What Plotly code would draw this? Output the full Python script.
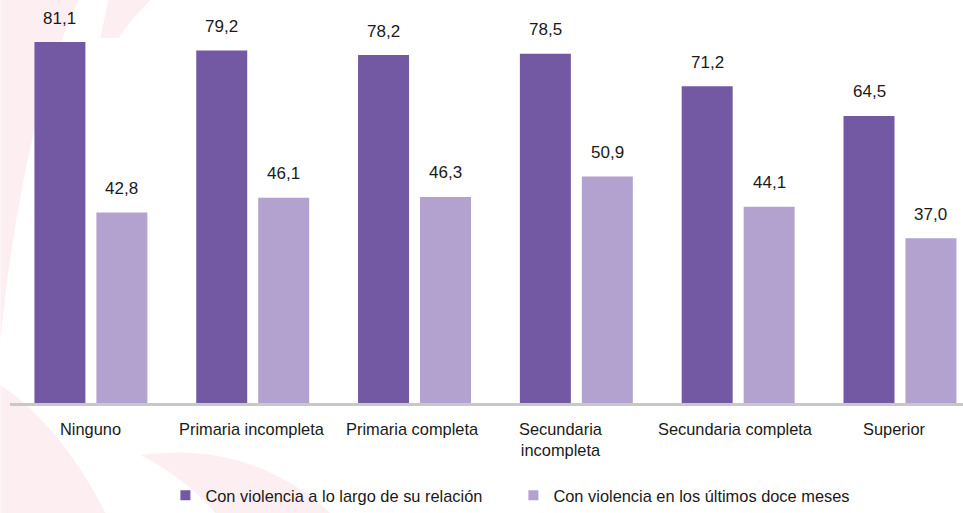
import plotly.graph_objects as go

categories = ["Ninguno", "Primaria incompleta", "Primaria completa",
              "Secundaria<br>incompleta", "Secundaria completa", "Superior"]
series_names = ["Con violencia a lo largo de su relación",
                "Con violencia en los últimos doce meses"]
vals_relacion = [81.1, 79.2, 78.2, 78.5, 71.2, 64.5]
vals_12meses = [42.8, 46.1, 46.3, 50.9, 44.1, 37.0]
labels_relacion = ["81,1", "79,2", "78,2", "78,5", "71,2", "64,5"]
labels_12meses = ["42,8", "46,1", "46,3", "50,9", "44,1", "37,0"]

DARK = "#7358A3"
LIGHT = "#B3A2CF"
FONT = "Liberation Sans, Arial, sans-serif"
TXT = "#1a1a1a"
FS = 16.4

# geometry
W, H = 963, 513
ML, MR, MT, MB = 9.5, 0, 0, 110
plot_w = W - ML - MR
plot_h = H - MT - MB
cat_px = 161.9
x_hi = -0.5 + plot_w / cat_px
y_hi = plot_h / 4.45

bw = 51 / cat_px
off_dark = -56.5 / cat_px
off_light = 5.5 / cat_px

idx = list(range(len(categories)))

fig = go.Figure()
fig.add_trace(go.Bar(x=idx, y=vals_relacion, name=series_names[0],
                     marker=dict(color=DARK, line=dict(width=0)),
                     width=bw, offset=off_dark, showlegend=False))
fig.add_trace(go.Bar(x=idx, y=vals_12meses, name=series_names[1],
                     marker=dict(color=LIGHT, line=dict(width=0)),
                     width=bw, offset=off_light, showlegend=False))
# legend entries
for nm, col in zip(series_names, [DARK, LIGHT]):
    fig.add_trace(go.Scatter(x=[None], y=[None], mode="markers", name=nm,
                             marker=dict(symbol="square", size=10, color=col)))

annotations = []
for i in idx:
    annotations.append(dict(x=i + off_dark + bw / 2, y=vals_relacion[i], text=labels_relacion[i],
                            xref="x", yref="y", showarrow=False, yanchor="middle", yshift=24,
                            font=dict(family=FONT, size=17, color=TXT)))
    annotations.append(dict(x=i + off_light + bw / 2, y=vals_12meses[i], text=labels_12meses[i],
                            xref="x", yref="y", showarrow=False, yanchor="middle", yshift=24,
                            font=dict(family=FONT, size=17, color=TXT)))

# category labels under the axis (slight horizontal nudges as in the original layout)
label_nudge = {1: -1, 2: -2, 3: -15, 4: -3, 5: -6}
for i in idx:
    annotations.append(dict(x=i, y=0, xref="x", yref="y", text=categories[i], showarrow=False,
                            xanchor="center", yanchor="top", yshift=-15,
                            xshift=label_nudge.get(i, 0), align="center",
                            font=dict(family=FONT, size=FS, color=TXT)))

# faint decorative watermark swooshes (pixel -> paper)
def px(xp, yp):
    return ((xp - ML) / plot_w, (plot_h + MT - yp) / plot_h)

def path(points):
    s = ""
    for cmd, pts in points:
        coords = " ".join("%.4f,%.4f" % px(*p) for p in pts)
        s += cmd + coords + " "
    return s + "Z"

wm = "#FCEEF1"
shapes = [
    dict(type="path", xref="paper", yref="paper", layer="below", line=dict(width=0), fillcolor=wm,
         path=path([("M", [(0, 0)]), ("L", [(78, 0)]), ("Q", [(22, 120), (0, 340)])])),
    dict(type="path", xref="paper", yref="paper", layer="below", line=dict(width=0), fillcolor=wm,
         path=path([("M", [(108, 0)]), ("L", [(150, 0)]), ("Q", [(130, 20), (118, 38)]),
                    ("L", [(100, 38)])])),
    dict(type="path", xref="paper", yref="paper", layer="below", line=dict(width=0), fillcolor=wm,
         path=path([("M", [(0, 385)]), ("Q", [(60, 425), (105, 513)]), ("L", [(0, 513)])])),
    dict(type="path", xref="paper", yref="paper", layer="below", line=dict(width=0), fillcolor=wm,
         path=path([("M", [(140, 455)]), ("Q", [(250, 440), (330, 513)]), ("L", [(215, 513)]),
                    ("Q", [(185, 478), (140, 455)])])),
]

fig.update_layout(
    width=W, height=H,
    margin=dict(l=ML, r=MR, t=MT, b=MB, pad=0),
    paper_bgcolor="white", plot_bgcolor="rgba(0,0,0,0)",
    font=dict(family=FONT, size=FS, color=TXT),
    annotations=annotations,
    shapes=shapes,
    showlegend=True,
    legend=dict(orientation="h", x=(165 - ML) / plot_w, xanchor="left",
                y=-(496 - (MT + plot_h)) / plot_h, yanchor="middle",
                entrywidth=303, entrywidthmode="pixels",
                font=dict(family=FONT, size=FS, color=TXT),
                bgcolor="rgba(0,0,0,0)"),
    xaxis=dict(range=[-0.5, x_hi], tickmode="array", tickvals=idx, ticktext=[""] * len(idx),
               showticklabels=False,
               showgrid=False, zeroline=False, showline=True, linecolor="#C8C8C8", linewidth=2.5,
               ticks="", fixedrange=True),
    yaxis=dict(range=[0, y_hi], visible=False, showgrid=False, zeroline=False, fixedrange=True),
)

fig.write_html("out.html", config={"displayModeBar": False},
               post_script="document.body.style.margin='0';document.body.style.overflow='hidden';")
